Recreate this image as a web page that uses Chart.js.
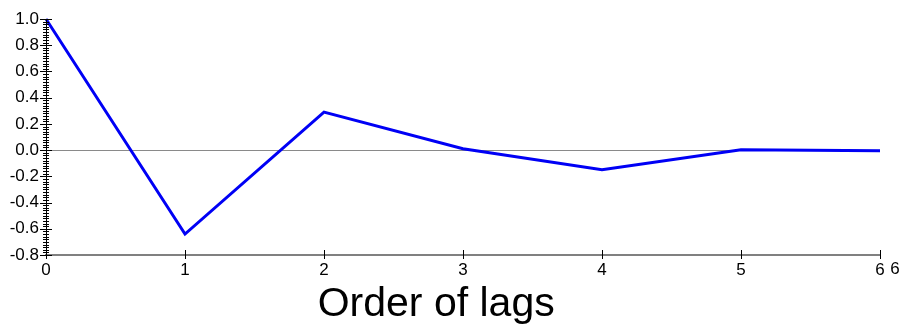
<!DOCTYPE html>
<html>
<head>
<meta charset="utf-8">
<script src="https://cdn.jsdelivr.net/npm/chart.js@4/dist/chart.umd.min.js"></script>
<style>
html,body{margin:0;padding:0;background:#fff;}
#wrap{width:905px;height:329px;position:relative;}
</style>
</head>
<body>
<div id="wrap"><canvas id="c"></canvas></div>
<script>
const lags = [0, 1, 2, 3, 4, 5, 6];
const acfValues = [1.0, -0.64, 0.29, 0.01, -0.15, 0.003, -0.005];
const xTitle = "Order of lags";
const extraLabel = "6";

const FONT = "'Liberation Sans', Arial, Helvetica, sans-serif";

const tickPlugin = {
  id: 'ticksPlugin',
  afterDraw(chart) {
    const ctx = chart.ctx;
    const xs = chart.scales.x, ys = chart.scales.y;
    const ax = chart.chartArea.left;
    ctx.save();
    ctx.strokeStyle = '#000';
    ctx.lineWidth = 1;
    for (let i = -40; i <= 50; i++) {
      const v = i / 50;
      const py = Math.round(ys.getPixelForValue(v)) + 0.5;
      const major = (i % 10 === 0);
      ctx.beginPath();
      if (major) { ctx.moveTo(ax - 6, py); ctx.lineTo(ax + 6, py); }
      else { ctx.moveTo(ax - 3, py); ctx.lineTo(ax + 3, py); }
      ctx.stroke();
    }
    ctx.beginPath();
    ctx.moveTo(ax + 0.5, ys.getPixelForValue(1.0));
    ctx.lineTo(ax + 0.5, ys.getPixelForValue(-0.8));
    ctx.stroke();
    const by = ys.getPixelForValue(-0.8);
    lags.forEach(v => {
      const px = Math.round(xs.getPixelForValue(v)) + 0.5;
      ctx.beginPath();
      ctx.moveTo(px, by - 5);
      ctx.lineTo(px, by + 4);
      ctx.stroke();
    });
    ctx.fillStyle = '#000';
    ctx.font = "17px " + FONT;
    ctx.textAlign = 'center';
    ctx.textBaseline = 'top';
    ctx.fillText(extraLabel, xs.getPixelForValue(6) + 15, by + 6);
    ctx.font = "41px " + FONT;
    ctx.textBaseline = 'alphabetic';
    ctx.fillText(xTitle, chart.width * 0.482, 316);
    ctx.restore();
  }
};

new Chart(document.getElementById('c'), {
  type: 'line',
  data: {
    datasets: [{
      data: lags.map((x, i) => ({x: x, y: acfValues[i]})),
      borderColor: '#0000f5',
      borderWidth: 3,
      pointRadius: 0,
      tension: 0,
      fill: false,
      clip: false
    }]
  },
  options: {
    responsive: true,
    maintainAspectRatio: false,
    animation: false,
    layout: { padding: { top: 19, right: 25, left: 0, bottom: 0 } },
    plugins: { legend: { display: false }, tooltip: { enabled: false } },
    scales: {
      x: {
        type: 'linear',
        min: 0, max: 6,
        afterBuildTicks: s => { s.ticks = lags.map(v => ({value: v})); },
        afterFit: s => { s.height = 74; },
        ticks: {
          color: '#000',
          font: { size: 17, family: FONT },
          padding: 5,
          maxRotation: 0,
          callback: v => String(v)
        },
        grid: { display: true, drawOnChartArea: false, drawTicks: false },
        border: { display: true, color: '#808080', width: 2 },
        title: { display: false }
      },
      y: {
        min: -0.8, max: 1.0,
        afterBuildTicks: s => {
          const t = [];
          for (let i = -4; i <= 5; i++) t.push({value: i / 5});
          s.ticks = t;
        },
        afterFit: s => { s.width = 46; },
        ticks: {
          color: '#000',
          font: { size: 17, family: FONT },
          padding: 7,
          callback: v => Number(v).toFixed(1)
        },
        grid: {
          drawTicks: false,
          color: c => (c.tick && Math.abs(c.tick.value) < 1e-9) ? '#8a8a8a' : 'rgba(0,0,0,0)',
          lineWidth: 1
        },
        border: { display: false }
      }
    }
  },
  plugins: [tickPlugin]
});
</script>
</body>
</html>
